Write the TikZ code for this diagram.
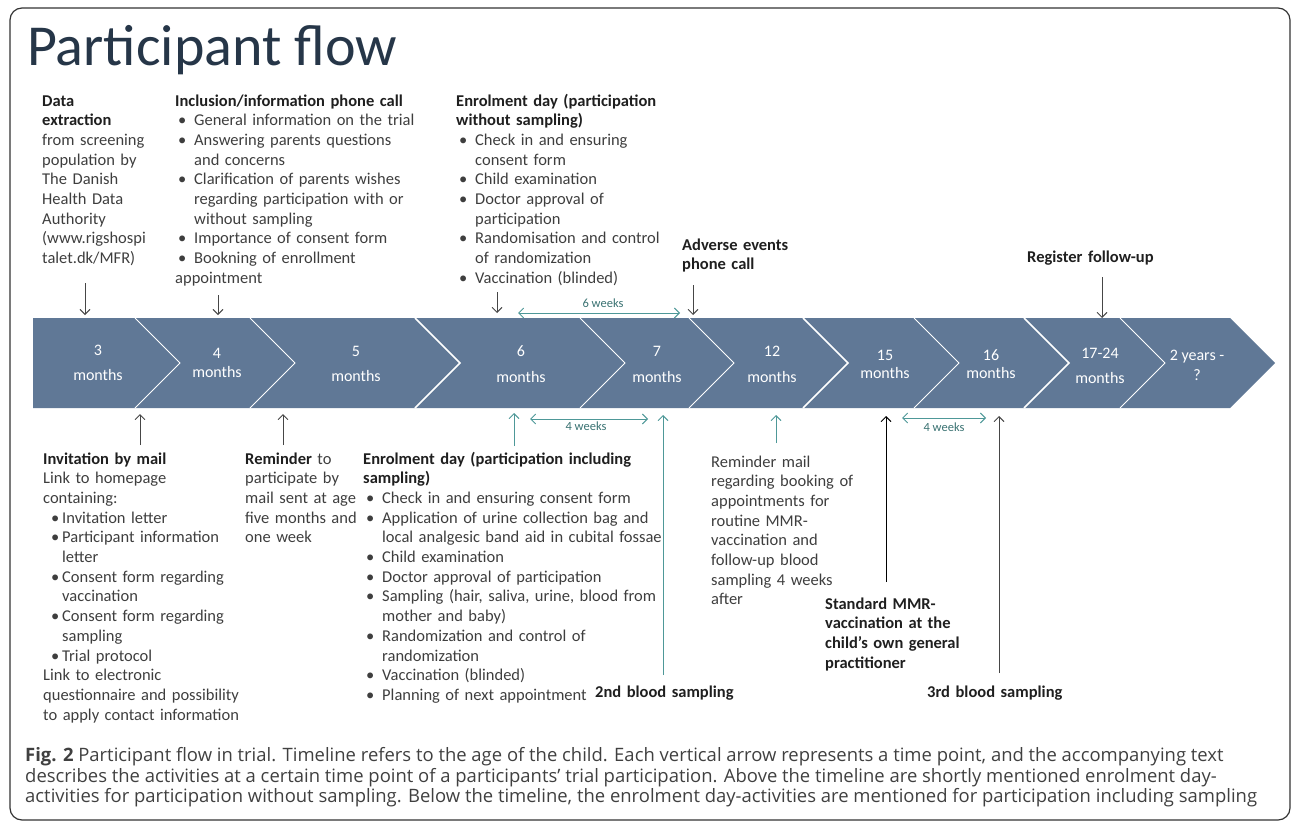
\documentclass[tikz,border=0pt]{standalone}
\usepackage{fontspec}
\setmainfont{Carlito}
\newfontfamily\capfont{Open Sans}
\usetikzlibrary{arrows.meta}
\definecolor{bandblue}{RGB}{96,120,150}
\definecolor{titleslate}{RGB}{38,54,72}
\definecolor{textgray}{RGB}{62,62,62}
\definecolor{arrowgray}{RGB}{70,70,70}
\definecolor{weekteal}{RGB}{78,152,152}
\newlength\bulletin
\setlength\bulletin{3pt}
\newcommand{\hd}[1]{{\color{black!88}\textbf{#1}}}
\newcommand{\bitem}[1]{\par\hangindent=19pt\hangafter=1\noindent\makebox[19pt][l]{\hspace{\bulletin}\textbullet}{\let\\\newline #1}}

\begin{document}
\begin{tikzpicture}[x=1pt, y=-1pt, >={Straight Barb[length=5pt,width=10pt]},
    blocktext/.style={anchor=base west, inner sep=0pt, text width=330pt, align=left,
        font=\fontsize{16.5}{19.7}\selectfont, text=textgray},
    seglabel/.style={inner sep=0pt, text=white, font=\fontsize{16}{19}\selectfont},
    weeklabel/.style={inner sep=0pt, text=weekteal!75!black, font=\fontsize{12.5}{14}\selectfont},
    pointer/.style={->, arrowgray, line width=0.9pt},
    weekspan/.style={<->, weekteal, line width=0.9pt}]
    \useasboundingbox (0,0) rectangle (1292,822);

    % Frame and title
    \draw[black!80, line width=1.2pt, rounded corners=12pt] (10,8) rectangle (1290,820);
    \node[anchor=base west, inner sep=0pt, text=titleslate, font=\fontsize{58}{60}\selectfont] (title) at (27,65) {Participant flow};

    % Timeline band
    \fill[bandblue] (33,318) -- (1230,318) -- (1275,363) -- (1230,408) -- (33,408) -- cycle;
    \foreach \t/\w in {180/0.8, 295/0.8, 460/1.6, 625/0.8, 734/0.8, 848/1.6, 959/0.8, 1069/1.6, 1165/0.8}
        \draw[white, line width=\w pt] ({\t-45},318) -- (\t,363) -- ({\t-45},408);

    % Ages
    \foreach \x/\ya/\yb/\na/\nb [count=\i] in {98/350/375/3/months, 217/353/372/4/months,
            356/351/376/5/months, 521/351/377/6/months, 657/351/377/7/months,
            772/351/377/12/months, 885/355/373/15/months, 991/355/373/16/months,
            1100/353/378/17-24/months, 1197/357/375/2 years -/?}{
        \node[seglabel] (num\i) at (\x,\ya) {\na};
        \node[seglabel] (mon\i) at (\x,\yb) {\nb};
    }

    % Above the timeline
    \node[blocktext] (extract) at (42,106) {\hd{Data}\\ \hd{extraction}\\ from screening\\ population by\\
        The Danish\\ Health Data\\ Authority\\ (www.rigshospi\\ talet.dk/MFR)};
    \node[blocktext] (phone) at (175,106) {\hd{Inclusion/information phone call}
        \bitem{General information on the trial}
        \bitem{Answering parents questions\\ and concerns}
        \bitem{Clarification of parents wishes\\ regarding participation with or\\ without sampling}
        \bitem{Importance of consent form}
        \bitem{Bookning of enrollment\\ appointment}};
    \node[blocktext] (enrolwithout) at (456,106) {\hd{Enrolment day (participation}\\ \hd{without sampling)}
        \bitem{Check in and ensuring\\ consent form}
        \bitem{Child examination}
        \bitem{Doctor approval of\\ participation}
        \bitem{Randomisation and control\\ of randomization}
        \bitem{Vaccination (blinded)}};
    \node[blocktext] (adverse) at (682,250) {\hd{Adverse events}\\ \hd{phone call}};
    \node[blocktext] (register) at (1027,262) {\hd{Register follow-up}};

    \foreach \n/\x/\ya/\yb in {extract/85/283/315, phone/218/295/315, enrolwithout/497/292/313,
            adverse/693/285/315, register/1102/277/318}{
        \coordinate (\n-s) at (\x,\ya);
        \coordinate (\n-e) at (\x,\yb);
        \draw[pointer] (\n-s) -- (\n-e);
    }
    \coordinate (six-a) at (518,313);
    \coordinate (six-b) at (680,313);
    \draw[weekspan] (six-a) -- (six-b);
    \node[weeklabel] (sixweeks) at (603,303) {6 weeks};

    % Below the timeline
    \node[blocktext] (invite) at (43,464) {\setlength\bulletin{8pt}\hd{Invitation by mail}\\ Link to homepage\\ containing:
        \bitem{Invitation letter}
        \bitem{Participant information\\ letter}
        \bitem{Consent form regarding\\ vaccination}
        \bitem{Consent form regarding\\ sampling}
        \bitem{Trial protocol}
        \par\noindent Link to electronic\\ questionnaire and possibility\\ to apply contact information};
    \node[blocktext] (remind) at (245,464) {\hd{Reminder} to\\ participate by\\ mail sent at age\\ five months and\\ one week};
    \node[blocktext] (enrolwith) at (363,464) {\hd{Enrolment day (participation including}\\ \hd{sampling)}
        \bitem{Check in and ensuring consent form}
        \bitem{Application of urine collection bag and\\ local analgesic band aid in cubital fossae}
        \bitem{Child examination}
        \bitem{Doctor approval of participation}
        \bitem{Sampling (hair, saliva, urine, blood from\\ mother and baby)}
        \bitem{Randomization and control of\\ randomization}
        \bitem{Vaccination (blinded)}
        \bitem{Planning of next appointment}};
    \node[blocktext] (remindmail) at (711,467) {Reminder mail\\ regarding booking of\\ appointments for\\ routine MMR-\\
        vaccination and\\ follow-up blood\\ sampling 4 weeks\\ after};
    \node[blocktext] (mmr) at (825,609) {\hd{Standard MMR-}\\ \hd{vaccination at the}\\ \hd{child's own general}\\ \hd{practitioner}};
    \node[blocktext] (blood2) at (595,697) {\hd{2nd blood sampling}};
    \node[blocktext] (blood3) at (927,697) {\hd{3rd blood sampling}};

    \foreach \n/\x/\ya/\yb/\c in {invite/140/445/414/arrowgray, remind/283/445/414/arrowgray,
            enrolwith/514/446/413/weekteal, blood2/663/675/415/weekteal,
            remindmail/776/443/415/weekteal, mmr/886/582/416/black,
            blood3/999/673/416/arrowgray}{
        \coordinate (\n-s) at (\x,\ya);
        \coordinate (\n-e) at (\x,\yb);
        \draw[pointer, draw=\c] (\n-s) -- (\n-e);
    }
    \coordinate (fourA-a) at (530,419);
    \coordinate (fourA-b) at (648,419);
    \draw[weekspan] (fourA-a) -- (fourA-b);
    \node[weeklabel] (fourweeksA) at (586,426) {4 weeks};
    \coordinate (fourB-a) at (902,418);
    \coordinate (fourB-b) at (986,418);
    \draw[weekspan] (fourB-a) -- (fourB-b);
    \node[weeklabel] (fourweeksB) at (944,427) {4 weeks};

    % Caption
    \begin{scope}[every node/.style={anchor=base west, inner sep=0pt, text=black!75, font=\capfont\fontsize{18.45}{21}\selectfont}]
        \node (cap1) at (25,761) {\textbf{Fig. 2} Participant flow in trial. Timeline refers to the age of the child. Each vertical arrow represents a time point, and the accompanying text};
        \node (cap2) at (25,782) {describes the activities at a certain time point of a participants’ trial participation. Above the timeline are shortly mentioned enrolment day-};
        \node (cap3) at (25,802) {activities for participation without sampling. Below the timeline, the enrolment day-activities are mentioned for participation including sampling};
    \end{scope}
\end{tikzpicture}
\end{document}
